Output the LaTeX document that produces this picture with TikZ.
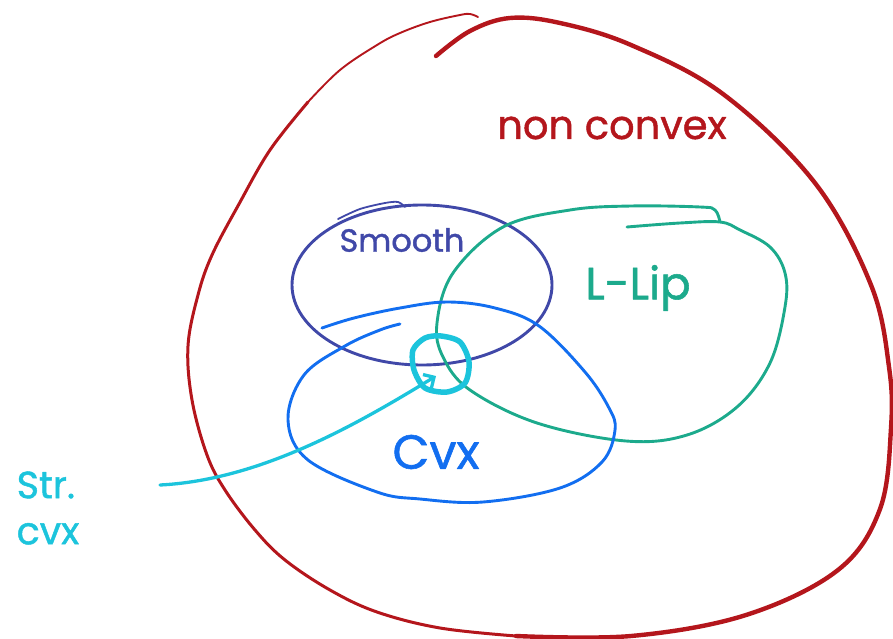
\documentclass[tikz,border=0pt]{standalone}
\usepackage{fontspec}
\setmainfont{Poppins}[FakeBold=1.2]
\usetikzlibrary{arrows.meta}
\definecolor{ncred}{RGB}{180,22,28}
\definecolor{smblue}{RGB}{64,72,168}
\definecolor{lipteal}{RGB}{28,170,140}
\definecolor{cvxblue}{RGB}{18,110,240}
\definecolor{strcyan}{RGB}{28,196,220}
\begin{document}
\begin{tikzpicture}[x=1pt,y=-1pt,line cap=round,line join=round,
  lbl/.style={inner sep=0pt,anchor=center},
  contour/.style={line width=2.9}]
\useasboundingbox (0,0) rectangle (893,639);
% outer red region
\draw[ncred,line width=1.9] plot[smooth,tension=0.6] coordinates {(478,17) (470,14) (460,15) (430,22) (400,33) (377,45) (340,70) (308,102)};
\draw[ncred,line width=3] plot[smooth,tension=0.6] coordinates {(308,102) (270,150) (239,204) (212,255) (198,295) (188,346) (192,400) (207,455) (225,490) (255,530) (285,560) (330,590) (377,612) (440,628) (516,636)};
\draw[ncred,line width=4.4] plot[smooth,tension=0.6] coordinates {(516,636) (631,636) (746,615) (838,570) (880,509) (891,428) (889,367) (871,285) (815,183) (723,94) (631,45) (560,23) (510,18) (470,31) (436,56)};
% smooth
\draw[smblue,contour] (422,285) ellipse [x radius=130, y radius=80];
\draw[smblue,line width=1.8] plot[smooth] coordinates {(338,219) (360,209) (385,203) (398,202) (405,207)};
% L-Lip
\draw[lipteal,contour] plot[smooth,tension=0.6] coordinates {(627,227) (680,223) (720,222) (740,230) (770,247) (785,273) (785,307) (770,363) (737,407) (687,435) (626,441) (537,423) (470,390) (443,357) (437,323) (453,273) (503,227) (570,210) (631,206) (700,207) (715,210) (720,222)};
% Cvx
\draw[cvxblue,contour] plot[smooth,tension=0.6] coordinates {(322,328) (354,318) (400,308) (447,302) (495,308) (539,326) (585,372) (609,408) (615,430) (602,462) (560,488) (483,502) (420,499) (377,492) (308,460) (288,420) (304,375) (345,346) (380,330) (400,324)};
% strongly convex
\draw[strcyan,line width=5.5] plot[smooth cycle] coordinates {(441,336) (460,342) (469,362) (465,383) (447,392) (425,388) (414,370) (413,350) (425,338)};
\coordinate (arrowstart) at (160,485);
\coordinate (arrowtip) at (436,376);
\draw[strcyan,line width=3.3,-{Straight Barb[length=8pt,width=16pt]}] (arrowstart) .. controls (260,480) and (356,425) .. (arrowtip);
% labels
\node[lbl,text=ncred,font=\fontsize{40}{44}\selectfont] (nonconvex) at (612,128) {non convex};
\node[lbl,text=smblue,font=\fontsize{32}{36}\selectfont] (smooth) at (402,240) {Smooth};
\node[lbl,text=lipteal,font=\fontsize{45}{50}\selectfont] (llip) at (638,288) {L-Lip};
\node[lbl,text=cvxblue,font=\fontsize{48}{52}\selectfont] (cvx) at (436,452) {Cvx};
\node[lbl,text=strcyan,font=\fontsize{38}{46}\selectfont,align=left] (strcvx) at (48,508) {Str.\\cvx};
\end{tikzpicture}
\end{document}
